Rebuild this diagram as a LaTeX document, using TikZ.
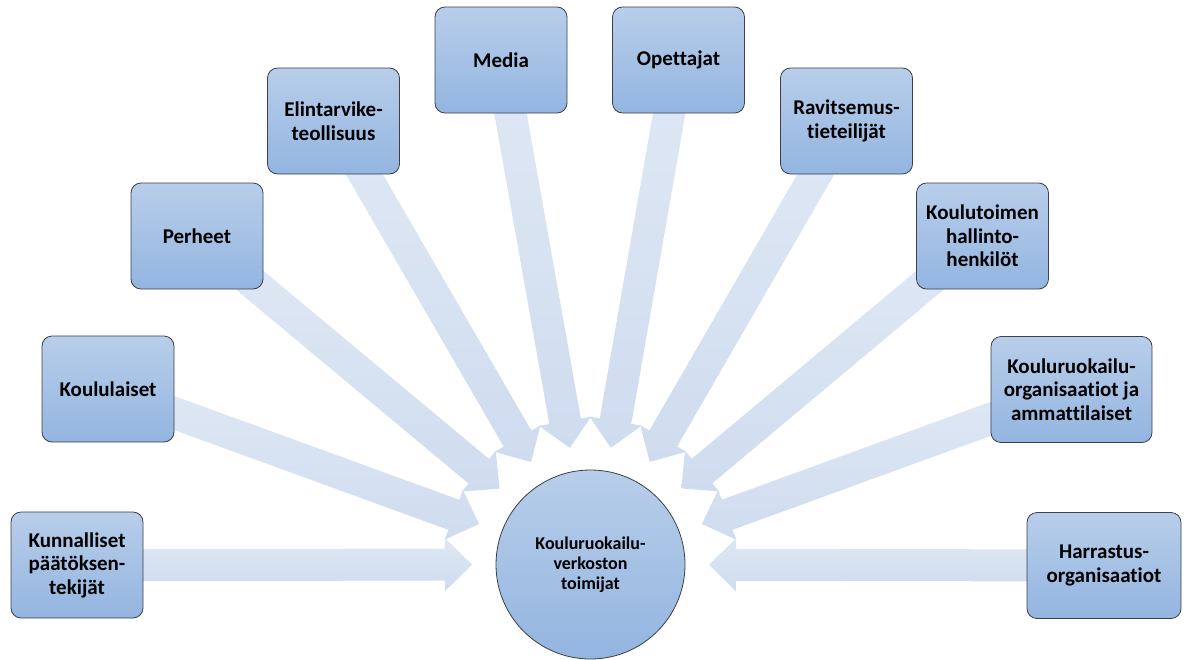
\documentclass[tikz,border=0pt]{standalone}
\usepackage{fontspec}
\setmainfont{Carlito}[Ligatures=NoCommon]
\usetikzlibrary{calc}
\pgfdeclarelayer{bg}
\pgfsetlayers{bg,main}
\definecolor{boxtop}{HTML}{B8CEEA}
\definecolor{boxbot}{HTML}{93B5E0}
\definecolor{boxline}{HTML}{3A3F4A}
\definecolor{arrtop}{HTML}{DEE7F4}
\definecolor{arrbot}{HTML}{CFDCEF}
\newcommand\blockarrow[1]{%
  \path (#1) -- (hub) coordinate[pos=0] (#1-s);
  \coordinate (#1-t) at ($(hub.center)!118.5pt!(#1.center)$);
  \coordinate (#1-b) at ($(#1-s)!-20pt!(#1-t)$);
  \coordinate (#1-h) at ($(#1-t)!27pt!(#1-b)$);
  \begin{pgfonlayer}{bg}
  \path[bigarrow] ($(#1-b)!16pt!90:(#1-t)$) -- ($(#1-h)!16pt!90:(#1-t)$)
     -- ($(#1-h)!26.5pt!90:(#1-t)$) -- (#1-t) -- ($(#1-h)!26.5pt!-90:(#1-t)$)
     -- ($(#1-h)!16pt!-90:(#1-t)$) -- ($(#1-b)!16pt!-90:(#1-t)$) -- cycle;
  \end{pgfonlayer}}
\begin{document}
\begin{tikzpicture}[x=1pt,y=-1pt,
  actor/.style={draw=boxline, line width=0.8pt, rounded corners=10pt,
    top color=boxtop, bottom color=boxbot, minimum height=106pt,
    minimum width=132pt, inner sep=0pt, align=center,
    font=\bfseries\fontsize{21}{23.5}\selectfont},
  hub/.style={circle, draw=boxline, line width=0.8pt, top color=boxtop,
    bottom color=boxbot, minimum size=189pt, inner sep=0pt, align=center,
    font=\bfseries\fontsize{18}{20}\selectfont},
  bigarrow/.style={top color=arrtop, bottom color=arrbot, draw=none}]
\useasboundingbox (0,0) rectangle (1186,659);
\node[hub] (hub) at (590.5,564.5) {Kouluruokailu-\\verkoston\\toimijat};
\node[actor] (kun) at (77,565) {Kunnalliset\\päätöksen-\\tekijät};
\node[actor] (kou) at (108,389) {Koululaiset};
\node[actor] (per) at (197,236) {Perheet};
\node[actor] (eli) at (333.5,121) {Elintarvike-\\teollisuus};
\node[actor] (med) at (501,60) {Media};
\node[actor] (ope) at (678.5,60) {Opettajat};
\node[actor] (rav) at (846.5,121) {Ravitsemus-\\tieteilijät};
\node[actor] (kt) at (982.5,236) {Koulutoimen\\hallinto-\\henkilöt};
\node[actor, minimum width=161pt] (kr) at (1071.5,389.5) {Kouluruokailu-\\organisaatiot ja\\ammattilaiset};
\node[actor, minimum width=154pt] (har) at (1104,565.5) {Harrastus-\\organisaatiot};
\blockarrow{kun}
\blockarrow{kou}
\blockarrow{per}
\blockarrow{eli}
\blockarrow{med}
\blockarrow{ope}
\blockarrow{rav}
\blockarrow{kt}
\blockarrow{kr}
\blockarrow{har}
\end{tikzpicture}
\end{document}
